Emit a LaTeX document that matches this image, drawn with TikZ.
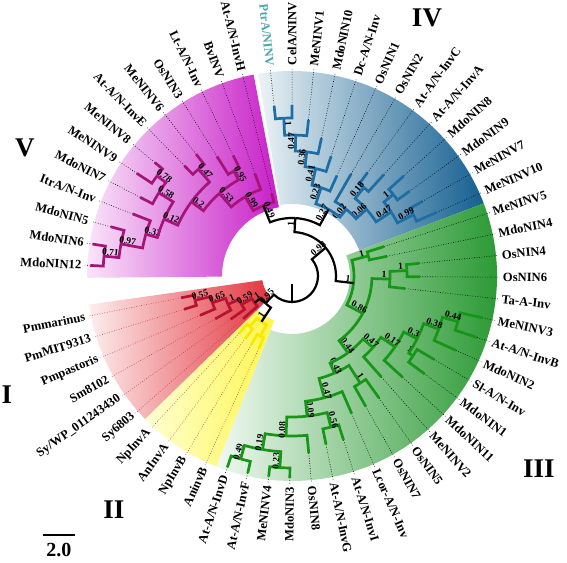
\documentclass[tikz,border=0pt]{standalone}
\usepackage{fontspec}
\setmainfont{Liberation Serif}
\definecolor{VMagenta}{RGB}{200,30,200}
\definecolor{VPale}{RGB}{250,230,250}
\definecolor{VLine}{RGB}{165,20,120}
\definecolor{IVBlue}{RGB}{20,95,145}
\definecolor{IVPale}{RGB}{236,243,246}
\definecolor{IVLine}{RGB}{28,110,165}
\definecolor{IIIGreen}{RGB}{25,145,35}
\definecolor{IIIPale}{RGB}{242,249,242}
\definecolor{IIILine}{RGB}{22,150,22}
\definecolor{IRed}{RGB}{226,52,62}
\definecolor{IPale}{RGB}{253,238,238}
\definecolor{ILine}{RGB}{185,18,48}
\definecolor{IIYellow}{RGB}{255,246,80}
\definecolor{IIPale}{RGB}{255,255,210}
\definecolor{IILine}{RGB}{250,232,0}
\definecolor{PtrTeal}{RGB}{75,165,170}
\definecolor{DotRed}{RGB}{200,60,60}

\tikzset{
  branch/.style={line width=2.7pt},
  backbone/.style={line width=2.2pt,black},
  leader/.style={line width=0.6pt,dash pattern=on 0.7pt off 1.8pt},
  redleader/.style={leader,DotRed},
  leaflabel/.style={font=\fontsize{12.6}{15}\selectfont\bfseries,inner sep=2.8pt},
  support/.style={font=\fontsize{9.5}{10}\selectfont\bfseries,inner sep=0.8pt,anchor=south},
  numeral/.style={font=\fontsize{27}{30}\selectfont\bfseries},
}

\makeatletter
% leaf: [leader style]{name}{angle}{tip radius}{text}{text colour}
\newcommand{\leafat}[6][leader]{%
  \pgfmathsetmacro\la{#3}%
  \expandafter\xdef\csname ta@#2\endcsname{\la}%
  \coordinate (#2) at (\la:#4);
  \pgfmathtruncatemacro\lflip{abs(\la)>90}%
  \ifnum\lflip=1
    \node[leaflabel,text=#6,rotate=\la+180,anchor=east] (#2-l) at (\la:208) {#5};
  \else
    \node[leaflabel,text=#6,rotate=\la,anchor=west] (#2-l) at (\la:208) {#5};
  \fi
  \draw[#1] (#2) -- (#2-l);
}
% clade: [branch style]{name}{child}{child}{radius}{support}
\newcommand{\clade}[6][]{%
  \pgfmathsetmacro\ca{(\csname ta@#3\endcsname+\csname ta@#4\endcsname)/2}%
  \expandafter\xdef\csname ta@#2\endcsname{\ca}%
  \coordinate (#2) at (\ca:#5);
  \draw[branch,#1] (#2) arc[start angle=\ca,end angle=\csname ta@#3\endcsname,radius=#5] -- (#3);
  \draw[branch,#1] (#2) arc[start angle=\ca,end angle=\csname ta@#4\endcsname,radius=#5] -- (#4);
  \pgfmathtruncatemacro\cflip{abs(\ca)>90}%
  \ifnum\cflip=1 \pgfmathsetmacro\crot{\ca+180}\else\let\crot\ca\fi
  \pgfmathsetmacro\cr{#5-6}%
  \if\relax\detokenize{#6}\relax\else
    \node[support,rotate=\crot] (#2-s) at (\ca:\cr) {#6};
  \fi
}
\newcommand{\angleof}[1]{\csname ta@#1\endcsname}
\makeatother

\begin{document}
\begin{tikzpicture}[x=1pt,y=1pt]
\useasboundingbox (-292,-286) rectangle (275,276);

% coloured sectors
\shade[left color=VPale,right color=VMagenta] (100.8:70) arc[start angle=100.8,end angle=180.5,radius=70]
  -- (180.5:205) arc[start angle=180.5,end angle=100.8,radius=205] -- cycle;
\shade[left color=IVPale,right color=IVBlue] (20.75:72) arc[start angle=20.75,end angle=99.5,radius=72]
  -- (99.5:205) arc[start angle=99.5,end angle=20.75,radius=205] -- cycle;
\shade[left color=IIIPale,right color=IIIGreen] (-111.7:58) arc[start angle=-111.7,end angle=20.75,radius=58]
  -- (20.75:205) arc[start angle=20.75,end angle=-111.7,radius=205] -- cycle;
\shade[left color=IIPale,right color=IIYellow] (-135.8:48) arc[start angle=-135.8,end angle=-111.7,radius=48]
  -- (-111.7:205) arc[start angle=-111.7,end angle=-135.8,radius=205] -- cycle;
\shade[left color=IPale,right color=IRed] (-172:30) arc[start angle=-172,end angle=-135.8,radius=30]
  -- (-135.8:205) arc[start angle=-135.8,end angle=-172,radius=205] -- cycle;

% leaves
\leafat{PtrA}{96}{171}{PtrA/NINV}{PtrTeal}
\foreach \nm/\k/\r/\txt in {CelA/1/171/{CelA/NINV},MeNINV1/2/157/MeNINV1,MdoNIN10/3/141/MdoNIN10,
    DcInv/4/126/{Dc-A/N-Inv},OsNIN1/5/110/OsNIN1,OsNIN2/6/118/OsNIN2,AtInvC/7/128/{At-A/N-InvC},
    AtInvA/8/137/{At-A/N-InvA},MdoNIN8/9/150/MdoNIN8,MdoNIN9/10/145/MdoNIN9,MeNINV7/11/150/MeNINV7,
    MeNINV10/12/158/MeNINV10,
    MeNINV5/13/97/MeNINV5,MdoNIN4/14/97/MdoNIN4,OsNIN4/15/128/OsNIN4,OsNIN6/16/128/OsNIN6,
    TaInv/17/114/{Ta-A-Inv},MeNINV3/18/195/MeNINV3,AtInvB/19/195/{At-A/N-InvB},MdoNIN2/20/180/MdoNIN2,
    SlInv/21/165/{Sl-A/N-Inv},MdoNIN1/22/165/MdoNIN1,MdoNIN11/23/150/MdoNIN11,MeNINV2/24/135/MeNINV2,
    OsNIN5/25/150/OsNIN5,OsNIN7/26/150/OsNIN7,LcorInv/27/150/{Lcor-A/N-Inv},AtInvI/28/172/{At-A/N-InvI},
    AtInvG/29/172/{At-A/N-InvG},OsNIN8/30/178/OsNIN8,MdoNIN3/31/202/MdoNIN3,MeNINV4/32/202/MeNINV4,
    AtInvF/33/202/{At-A/N-InvF},AtInvD/34/202/{At-A/N-InvD}}
  {\leafat{\nm}{96-6.02*\k}{\r}{\txt}{black}}
\foreach \nm/\k/\r/\txt in {AninvB/35/80/AninvB,NpInvB/36/80/NpInvB,AnInvA/37/78/AnInvA,NpInvA/38/78/NpInvA,
    Sy6803/39/65/Sy6803,SyWP/40/75/{Sy/WP\_011243430},Sm8102/41/88/Sm8102,Pmpastoris/42/100/Pmpastoris,
    PmMIT9313/43/113/PmMIT9313,Pmmarinus/44/113/Pmmarinus}
  {\leafat[redleader]{\nm}{96-6.02*\k}{\r}{\txt}{black}}
\foreach \nm/\k/\r/\txt in {MdoNIN12/45/202/MdoNIN12,MdoNIN6/46/202/MdoNIN6,MdoNIN5/47/188/MdoNIN5,
    ItrAInv/48/171/{ItrA/N-Inv},MdoNIN7/49/171/MdoNIN7,MeNINV9/50/186/MeNINV9,MeNINV8/51/178/MeNINV8,
    AtInvE/52/154/{At-A/N-InvE},MeNINV6/53/155/MeNINV6,OsNIN3/54/141/OsNIN3,LtInv/55/134/{Lt-A/N-Inv},
    BvINV/56/109/BvINV,AtInvH/57/85/{At-A/N-InvH}}
  {\leafat{\nm}{177-6.1*(\k-45)}{\r}{\txt}{black}}

% clade V
\clade[VLine]{v1}{MdoNIN12}{MdoNIN6}{189}{0.71}
\clade[VLine]{v2}{v1}{MdoNIN5}{174}{0.97}
\clade[VLine]{v3}{v2}{ItrAInv}{152}{0.32}
\clade[VLine]{v4}{MeNINV9}{MeNINV8}{168}{0.78}
\clade[VLine]{v5}{MdoNIN7}{v4}{157}{0.58}
\clade[VLine]{v6}{v3}{v5}{140}{0.12}
\clade[VLine]{v7}{AtInvE}{MeNINV6}{142}{0.47}
\clade[VLine]{v8}{v6}{v7}{125}{0.2}
\clade[VLine]{v9}{OsNIN3}{LtInv}{120}{0.95}
\clade[VLine]{v10}{v8}{v9}{110}{0.53}
\clade[VLine]{v11}{v10}{BvINV}{92}{0.99}
\clade[VLine]{vR}{v11}{AtInvH}{76}{0.49}

% clade IV
\clade[IVLine]{b1}{PtrA}{CelA}{158}{1}
\clade[IVLine]{b2}{b1}{MeNINV1}{141}{0.47}
\clade[IVLine]{b3}{b2}{MdoNIN10}{125}{0.36}
\clade[IVLine]{b4}{b3}{DcInv}{110}{0.41}
\clade[IVLine]{b5}{b4}{OsNIN1}{93}{0.23}
\clade[IVLine]{b6}{AtInvC}{AtInvA}{114}{0.18}
\clade[IVLine]{b7}{MdoNIN8}{MdoNIN9}{130}{1}
\clade[IVLine]{b8}{MeNINV7}{MeNINV10}{136}{0.99}
\clade[IVLine]{b9}{b7}{b8}{118}{0.47}
\clade[IVLine]{b10}{b6}{b9}{100}{0.06}
\clade[IVLine]{b11}{OsNIN2}{b10}{86}{0.02}
\clade[IVLine]{bR}{b5}{b11}{76}{0.27}

% clade III
\clade[IIILine]{g1}{MeNINV5}{MdoNIN4}{79}{1}
\clade[IIILine]{g2}{OsNIN4}{OsNIN6}{115}{1}
\clade[IIILine]{g3}{g2}{TaInv}{98}{1}
\clade[IIILine]{ga}{MeNINV3}{AtInvB}{172}{0.44}
\clade[IIILine]{gb}{ga}{MdoNIN2}{156}{0.38}
\clade[IIILine]{gc}{SlInv}{MdoNIN1}{145}{1}
\clade[IIILine]{gd}{gb}{gc}{140}{0.3}
\clade[IIILine]{ge}{gd}{MdoNIN11}{125}{0.17}
\clade[IIILine]{gf}{ge}{MeNINV2}{108}{0.47}
\clade[IIILine]{gg}{OsNIN5}{OsNIN7}{127}{1}
\clade[IIILine]{gh}{AtInvF}{AtInvD}{190}{0.49}
\clade[IIILine]{gi}{MdoNIN3}{MeNINV4}{192}{0.23}
\clade[IIILine]{gj}{gi}{gh}{176}{0.19}
\clade[IIILine]{gk}{OsNIN8}{gj}{160}{0.08}
\clade[IIILine]{gl}{AtInvI}{AtInvG}{156}{0.56}
\clade[IIILine]{gm}{gl}{gk}{141}{0.09}
\clade[IIILine]{gn}{LcorInv}{gm}{126}{0.47}
\clade[IIILine]{go}{gg}{gn}{106}{0.43}
\clade[IIILine]{gp}{gf}{go}{95}{0.44}
\clade[IIILine]{gq}{g3}{gp}{80}{0.86}
\clade[IIILine]{gR}{g1}{gq}{62}{1}

% clades II and I
\clade[IILine]{y1}{AninvB}{NpInvB}{68}{}
\clade[IILine]{y2}{AnInvA}{NpInvA}{66}{}
\clade[IILine]{yR}{y1}{y2}{55}{1}
\clade[ILine]{r1}{Pmmarinus}{PmMIT9313}{100}{0.55}
\clade[ILine]{r2}{r1}{Pmpastoris}{84}{0.65}
\clade[ILine]{r3}{r2}{Sm8102}{70}{1}
\clade[ILine]{r4}{r3}{SyWP}{58}{0.59}
\clade[ILine]{rR}{r4}{Sy6803}{46}{1}

% backbone
\clade[backbone]{Y}{vR}{bR}{58}{1}
\clade[backbone]{X}{Y}{gR}{44}{0.98}
\clade[backbone]{A}{rR}{yR}{38}{0.95}
\coordinate (rootbase) at (-90:8);
\coordinate (root) at (-90:26);
\draw[backbone] (rootbase) -- (root);
\draw[backbone] (root) arc[start angle=-90,end angle=\angleof{A},radius=26] -- (A);
\draw[backbone] (root) arc[start angle=-90,end angle=\angleof{X},radius=26] -- (X);

% group numerals and scale
\node[numeral] (numIV) at (135,258) {IV};
\node[numeral] (numV) at (-267,128) {V};
\node[numeral] (numI) at (-285,-119) {I};
\node[numeral] (numII) at (-178,-234) {II};
\node[numeral] (numIII) at (247,-193) {III};
\coordinate (bar-l) at (-249,-259);
\coordinate (bar-r) at (-217,-259);
\draw[line width=1.6pt] (bar-l) -- (bar-r);
\node[font=\fontsize{20}{22}\selectfont\bfseries] (bar-t) at (-233,-274) {2.0};
\end{tikzpicture}
\end{document}
